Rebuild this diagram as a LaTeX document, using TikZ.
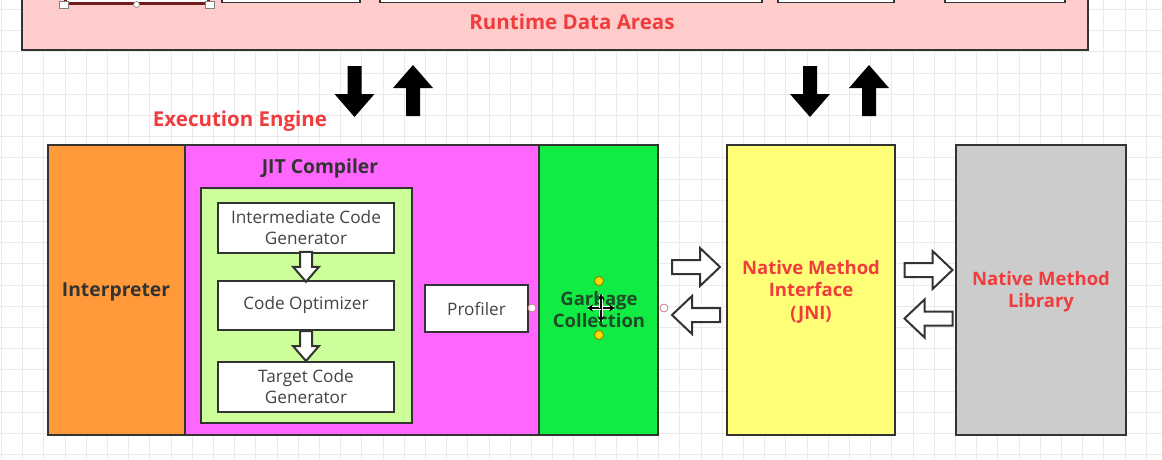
\documentclass[tikz,border=0pt]{standalone}
\usepackage{fontspec}
\setmainfont{Open Sans}
\usetikzlibrary{calc,arrows.meta}
\definecolor{edge}{HTML}{333333}
\definecolor{gridc}{HTML}{EAEAEA}
\definecolor{pinkc}{HTML}{FFCCCC}
\definecolor{orangec}{HTML}{FF993A}
\definecolor{magc}{HTML}{FF66FF}
\definecolor{lgreen}{HTML}{CCFF99}
\definecolor{gcgreen}{RGB}{17,236,68}
\definecolor{yellowc}{HTML}{FFFF77}
\definecolor{grayc}{HTML}{CCCCCC}
\definecolor{redtext}{RGB}{240,60,60}
\definecolor{darktext}{HTML}{333333}
\definecolor{innertext}{HTML}{444444}
\definecolor{gctext}{RGB}{30,75,40}
\definecolor{maroon}{HTML}{6E1C1C}
\begin{document}
\begin{tikzpicture}[x=1pt,y=-1pt,
  box/.style={draw=edge, line width=2pt, inner sep=0pt},
  titlelabel/.style={text=redtext, font=\fontsize{20.5}{24}\selectfont\bfseries, align=center},
  redlabel/.style={text=redtext, font=\fontsize{18.5}{22.5}\selectfont\bfseries, align=center},
  darklabel/.style={text=darktext, font=\fontsize{19.3}{22}\selectfont\bfseries, align=center},
  innerlabel/.style={text=innertext, font=\fontsize{17.2}{21}\selectfont, align=center},
  hollow/.style={draw=edge, line width=2pt, fill=white, line join=miter},
  harrow/.pic={\path[hollow] (-24,-7) -- (4,-7) -- (4,-19) -- (24,0) -- (4,19) -- (4,7) -- (-24,7) -- cycle;},
  sarrow/.pic={\path[hollow] (-6,-15) -- (6,-15) -- (6,0) -- (13,0) -- (0,15) -- (-13,0) -- (-6,0) -- cycle;},
  vblk/.pic={\fill[black] (-7,-25.5) -- (7,-25.5) -- (7,2.5) -- (20,2.5) -- (0,25.5) -- (-20,2.5) -- (-7,2.5) -- cycle;},
  port/.style={circle, draw={rgb,255:red,200;green,120;blue,130}, fill=white, line width=0.8pt, inner sep=0pt, minimum size=8pt},
  handle/.style={circle, draw={rgb,255:red,150;green,120;blue,0}, fill={rgb,255:red,255;green,215;blue,0}, line width=0.8pt, inner sep=0pt, minimum size=9pt}
]
\useasboundingbox (0,0) rectangle (1162,459);
\clip (0,0) rectangle (1162,459);
\fill[white] (0,0) rectangle (1162,459);
% grid
\foreach \i in {0,...,55} {\draw[gridc, line width=1pt] ({1.5+21.2*\i},0) -- ({1.5+21.2*\i},459);}
\foreach \j in {0,...,22} {\draw[gridc, line width=1pt] (0,{9.5+21.2*\j}) -- (1162,{9.5+21.2*\j});}

% Runtime data areas
\node[box, fill=pinkc, minimum width=1066pt, minimum height=80pt] (rda) at (555,10) {};
\node[box, fill=white, draw=maroon, line width=3pt, minimum width=143pt, minimum height=30pt] (ra1) at (136.5,-12) {};
\node[box, fill=white, line width=1.5pt, minimum width=138pt, minimum height=30pt] (ra2) at (291,-12.5) {};
\node[box, fill=white, line width=1.5pt, minimum width=382pt, minimum height=30pt] (ra3) at (571,-12.5) {};
\node[box, fill=white, line width=1.5pt, minimum width=116pt, minimum height=30pt] (ra4) at (836,-12.5) {};
\node[box, fill=white, line width=1.5pt, minimum width=120pt, minimum height=30pt] (ra5) at (1005,-12.5) {};
\node[draw=gray, fill=white, line width=0.6pt, minimum width=9pt, minimum height=7pt, inner sep=0pt] (h1) at (ra1.south west) {};
\node[draw=gray, fill=white, line width=0.6pt, minimum width=9pt, minimum height=7pt, inner sep=0pt] (h2) at (ra1.south east) {};
\node[circle, draw=gray, fill=white, line width=0.6pt, minimum size=6pt, inner sep=0pt] (h3) at (ra1.south) {};
\node[titlelabel] (rdalabel) at (572,21.5) {Runtime Data Areas};

% vertical black arrows
\pic at (354.5,91.5) {vblk};
\pic[rotate=180] at (413,90.5) {vblk};
\pic at (810,91.5) {vblk};
\pic[rotate=180] at (869,90.5) {vblk};

\node[titlelabel] (eelabel) at (240,121) {Execution Engine};

% execution engine parts
\node[box, fill=magc, minimum width=354pt, minimum height=290pt] (jit) at (362,290) {};
\node[box, fill=orangec, minimum width=137pt, minimum height=290pt] (interp) at (116.5,290) {};
\node[darklabel] (interplabel) at (116,292) {Interpreter};
\node[darklabel] (jitlabel) at (320,168.5) {JIT Compiler};
\node[box, fill=lgreen, minimum width=211pt, minimum height=235pt] (gen) at (306.5,305.5) {};
\node[box, fill=white, minimum width=176pt, minimum height=50pt, innerlabel] (icg) at (306,227.5) {Intermediate Code\\Generator};
\node[box, fill=white, minimum width=176pt, minimum height=49pt, innerlabel] (co) at (306,305.5) {Code Optimizer};
\node[box, fill=white, minimum width=176pt, minimum height=50pt, innerlabel] (tcg) at (306,387) {Target Code\\Generator};
\pic at ($(icg.south)!.5!(co.north)$) {sarrow};
\pic at ($(co.south)!.5!(tcg.north)$) {sarrow};
\node[box, fill=white, minimum width=103pt, minimum height=47pt, innerlabel] (prof) at (476.5,308.5) {Profiler};
\node[box, fill=gcgreen, minimum width=119pt, minimum height=290pt] (gc) at (598.5,290) {};
\node[text=gctext, font=\fontsize{18.5}{22}\selectfont\bfseries, align=center] (gclabel) at (599,310) {Garbage\\Collection};
\node[port] (p1) at (532,308) {};
\node[port] (p2) at (664,308) {};
\node[handle] (y1) at (599,281) {};
\node[handle] (y2) at (599,335) {};
% move cursor
\coordinate (mc) at (601,308);
\foreach \a in {0,90,180,270} {
  \draw[white, line width=3.5pt] (mc) -- ++(\a:13);
  \draw[black, line width=1.4pt, -{Stealth[length=6pt,width=7pt]}] (mc) -- ++(\a:14);
}

% native method interface and library
\node[box, fill=yellowc, minimum width=168pt, minimum height=290pt] (jni) at (811,290) {};
\node[redlabel] (jnilabel) at (811,291.5) {Native Method\\Interface\\(JNI)};
\node[box, fill=grayc, minimum width=170pt, minimum height=290pt] (lib) at (1041,290) {};
\node[redlabel] (liblabel) at (1041,291.5) {Native Method\\Library};

% hollow arrows
\pic at (696,267) {harrow};
\pic[rotate=180] at (696,315) {harrow};
\pic at (928.5,270) {harrow};
\pic[rotate=180] at (928.5,318.5) {harrow};
\end{tikzpicture}
\end{document}
